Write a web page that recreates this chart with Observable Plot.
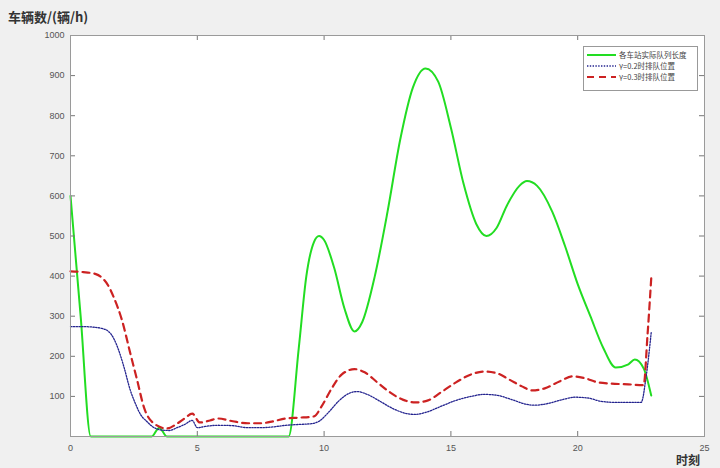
<!DOCTYPE html>
<html>
<head>
<meta charset="utf-8">
<script src="https://cdn.jsdelivr.net/npm/d3@7"></script>
<script src="https://cdn.jsdelivr.net/npm/@observablehq/plot@0.6"></script>
<style>
  html, body { margin: 0; padding: 0; background: #f0f0f0; }
  #chart { width: 720px; height: 468px; }
</style>
</head>
<body>
<div id="chart"></div>
<script>
// ---- data ----
const xTicks = [0, 5, 10, 15, 20, 25];
const yTicks = [100, 200, 300, 400, 500, 600, 700, 800, 900, 1000];
const seriesNames = ["各车站实际队列长度", "γ=0.2时排队位置", "γ=0.3时排队位置"];

const tGreen = [0, 0.4, 0.8, 3.2, 3.5, 3.8, 8.6, 9.0, 9.3, 9.6, 9.8, 10.0, 10.4, 10.8, 11.2, 11.5, 12.0, 12.5, 13.0, 13.5, 14.0, 14.5, 15.0, 15.5, 16.0, 16.4, 16.8, 17.2, 17.7, 18.0, 18.4, 19.0, 19.5, 20.0, 20.5, 21.0, 21.5, 22.0, 22.25, 22.6, 22.9];
const vGreen = [600, 300, 0, 0, 22, 0, 0, 220, 400, 485, 500, 490, 420, 320, 262, 285, 400, 560, 740, 870, 918, 885, 770, 630, 530, 500, 520, 575, 625, 637, 625, 560, 475, 380, 300, 222, 172, 180, 192, 170, 102];

const tBlue = [0, 0.5, 1.0, 1.2, 1.5, 1.7, 1.9, 2.1, 2.36, 2.56, 2.76, 3.0, 3.3, 3.6, 3.9, 4.2, 4.5, 4.8, 5.0, 5.3, 5.8, 6.4, 7.0, 7.5, 8.0, 8.5, 9.0, 9.5, 9.8, 10.2, 10.6, 11.0, 11.3, 11.7, 12.2, 12.7, 13.2, 13.6, 14.0, 14.6, 15.2, 15.8, 16.3, 16.8, 17.4, 18.0, 18.3, 18.8, 19.4, 19.9, 20.4, 20.9, 21.5, 22.0, 22.5, 22.7, 22.9];
const vBlue = [274, 274, 272, 270, 262, 245, 215, 175, 115, 82, 55, 38, 22, 16, 15, 22, 30, 40, 22, 25, 28, 27, 22, 22, 24, 28, 30, 32, 38, 62, 90, 108, 112, 105, 88, 70, 58, 55, 60, 75, 90, 100, 105, 103, 92, 80, 78, 82, 92, 98, 96, 88, 85, 85, 85, 150, 260];

const tRed = [0, 0.5, 1.0, 1.2, 1.5, 1.7, 2.03, 2.36, 2.63, 2.9, 3.3, 3.8, 4.2, 4.5, 4.8, 5.1, 5.5, 5.8, 6.4, 7.0, 7.5, 8.0, 8.5, 9.0, 9.6, 9.9, 10.3, 10.7, 11.2, 11.6, 12.1, 12.6, 13.1, 13.6, 14.1, 14.6, 15.2, 15.8, 16.3, 16.8, 17.3, 17.8, 18.2, 18.7, 19.3, 19.8, 20.3, 20.8, 21.3, 22.0, 22.6, 22.75, 22.9];
const vRed = [412, 410, 405, 398, 375, 348, 290, 207, 140, 72, 32, 20, 32, 45, 57, 35, 40, 45, 38, 33, 33, 38, 45, 47, 50, 75, 120, 155, 168, 160, 135, 110, 92, 85, 90, 110, 135, 155, 162, 158, 142, 125, 115, 120, 138, 150, 145, 135, 132, 130, 128, 250, 395];

const toRows = (t, v) => t.map((x, i) => ({x, y: v[i]}));
const green = toRows(tGreen, vGreen);
const blue = toRows(tBlue, vBlue);
const red = toRows(tRed, vRed);

const colors = ["#22dd22", "#24248f", "#cc2222"];
const W = 720, H = 468, mL = 70, mR = 16, mT = 35, mB = 32;
const innerH = H - mT - mB, innerW = W - mL - mR, tk = 5;

const plot = Plot.plot({
  width: W, height: H,
  marginLeft: mL, marginRight: mR, marginTop: mT, marginBottom: mB,
  style: {background: "transparent", fontFamily: "'Liberation Sans', Arial, sans-serif", fontSize: "9px", color: "#555"},
  x: {domain: [0, 25]},
  y: {domain: [0, 1000]},
  marks: [
    Plot.frame({fill: "white", stroke: null}),
    Plot.line(green, {x: "x", y: "y", stroke: colors[0], strokeWidth: 2, curve: "monotone-x"}),
    Plot.line(blue, {x: "x", y: "y", stroke: colors[1], strokeWidth: 1.3, strokeDasharray: "1.4,1.4", curve: "monotone-x"}),
    Plot.line(red, {x: "x", y: "y", stroke: colors[2], strokeWidth: 2.2, strokeDasharray: "7,5", curve: "monotone-x"}),
    Plot.ruleX(xTicks.slice(1, -1), {x: d => d, stroke: "#777", insetTop: innerH - tk}),
    Plot.ruleX(xTicks.slice(1, -1), {x: d => d, stroke: "#777", insetBottom: innerH - tk}),
    Plot.ruleY(yTicks.slice(0, -1), {y: d => d, stroke: "#777", insetRight: innerW - tk}),
    Plot.ruleY(yTicks.slice(0, -1), {y: d => d, stroke: "#777", insetLeft: innerW - tk}),
    Plot.axisX(xTicks, {tickSize: 0, tickPadding: 8, label: null, fill: "#555", tickFormat: d => String(d)}),
    Plot.axisY(yTicks, {tickSize: 0, tickPadding: 6, label: null, fill: "#555", tickFormat: d => String(d)}),
    Plot.frame({stroke: "#9a9a9a", strokeWidth: 1})
  ]
});
document.getElementById("chart").appendChild(plot);

const svg = d3.select(plot);
const cjk = "'Noto Sans CJK SC', 'Noto Sans', sans-serif";
svg.append("text").attr("x", 8).attr("y", 22).attr("text-anchor", "start")
  .attr("font-family", cjk).attr("font-size", 13).attr("font-weight", "bold").attr("fill", "#333")
  .text("车辆数/(辆/h)");
svg.append("text").attr("x", 676).attr("y", 465).attr("text-anchor", "start")
  .attr("font-family", cjk).attr("font-size", 12).attr("font-weight", "bold").attr("fill", "#333")
  .text("时刻");

// legend
const lg = svg.append("g");
lg.append("rect").attr("x", 583.5).attr("y", 46.5).attr("width", 114).attr("height", 44)
  .attr("fill", "white").attr("stroke", "#999");
const dashes = [null, "1.4,1.4", "7,5"];
const widths = [2, 1.3, 2.2];
seriesNames.forEach((name, i) => {
  const yy = 55 + i * 11;
  lg.append("line").attr("x1", 587).attr("x2", 616).attr("y1", yy).attr("y2", yy)
    .attr("stroke", colors[i]).attr("stroke-width", widths[i])
    .attr("stroke-dasharray", dashes[i]);
  lg.append("text").attr("x", 619).attr("y", yy + 3).attr("text-anchor", "start")
    .attr("font-family", cjk).attr("font-size", 7.5).attr("fill", "#444")
    .text(name);
});
</script>
</body>
</html>
